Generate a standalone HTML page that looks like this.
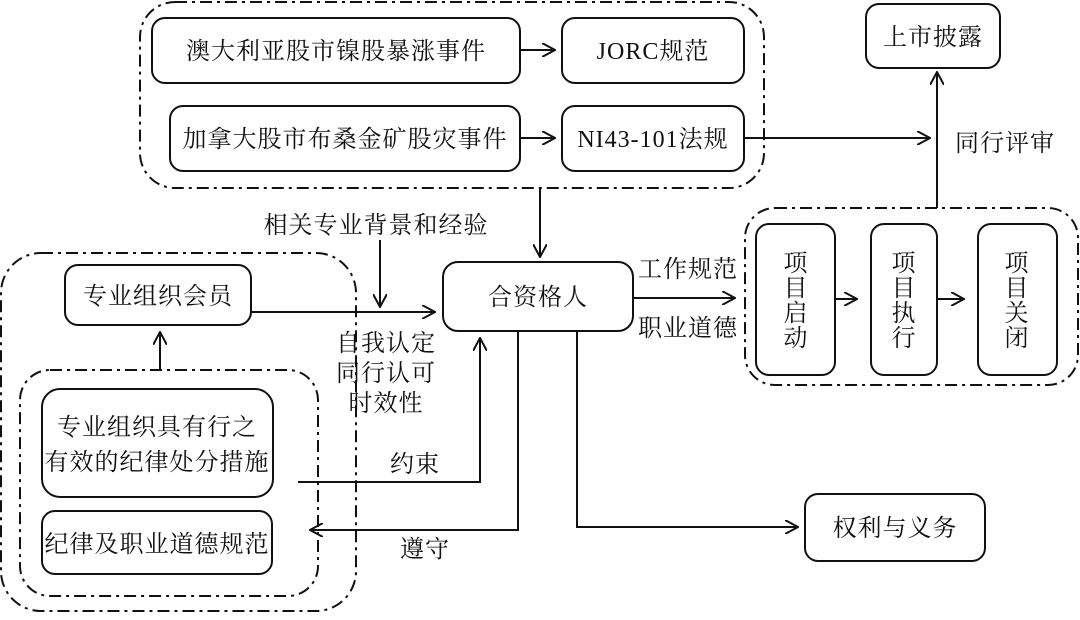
<!DOCTYPE html>
<html><head><meta charset="utf-8"><style>
html,body{margin:0;padding:0;background:#fff;}
svg text{font-family:"Liberation Serif","Noto Serif CJK SC","Noto Sans CJK SC",serif;font-size:24px;fill:#111;letter-spacing:1px;}
</style></head><body>
<svg width="1080" height="615" viewBox="0 0 1080 615" xmlns="http://www.w3.org/2000/svg">
<defs><marker id="a" viewBox="0 0 14 14" refX="13" refY="7" markerWidth="14" markerHeight="14" markerUnits="userSpaceOnUse" orient="auto"><path d="M0,0 L13,7 L0,14" fill="none" stroke="#111" stroke-width="2"/></marker></defs>
<g fill="none" stroke="#111" stroke-width="2" stroke-dasharray="12,5,3,5">
<rect x="140" y="2" width="624" height="186" rx="35"/>
<rect x="1" y="253" width="355" height="358" rx="40"/>
<rect x="20" y="370" width="298" height="226" rx="30"/>
<rect x="745" y="208" width="333" height="177" rx="30"/>
</g>
<g fill="#fff" stroke="#111" stroke-width="2">
<rect x="152" y="18" width="368" height="65" rx="13"/>
<rect x="562" y="18" width="182" height="65" rx="13"/>
<rect x="170" y="106" width="350" height="65" rx="13"/>
<rect x="562" y="106" width="182" height="65" rx="13"/>
<rect x="866" y="4" width="134" height="64" rx="13"/>
<rect x="443" y="262" width="190" height="69" rx="15"/>
<rect x="65" y="265" width="186" height="60" rx="13"/>
<rect x="42" y="389" width="231" height="108" rx="18"/>
<rect x="42" y="511" width="230" height="63" rx="13"/>
<rect x="805" y="494" width="180" height="67" rx="13"/>
<rect x="756" y="224" width="79" height="151" rx="13"/>
<rect x="871" y="224" width="66" height="151" rx="13"/>
<rect x="978" y="224" width="79" height="151" rx="13"/>
</g>
<g fill="none" stroke="#111" stroke-width="2" marker-end="url(#a)">
<line x1="520" y1="50" x2="555" y2="50"/>
<line x1="520" y1="138" x2="555" y2="138"/>
<line x1="744" y1="138" x2="930" y2="138"/>
<line x1="937" y1="208" x2="937" y2="72"/>
<line x1="540" y1="188" x2="540" y2="257"/>
<line x1="380" y1="240" x2="380" y2="307"/>
<line x1="251" y1="312" x2="435" y2="312"/>
<line x1="160" y1="370" x2="160" y2="332"/>
<polyline points="298,482 480,482 480,338"/>
<polyline points="518,331 518,530 310,530"/>
<polyline points="577,331 577,527 798,527"/>
<line x1="633" y1="298" x2="735" y2="298"/>
<line x1="835" y1="299" x2="857" y2="299"/>
<line x1="937" y1="299" x2="964" y2="299"/>
</g>
<g text-anchor="middle">
<text x="336" y="59">澳大利亚股市镍股暴涨事件</text>
<text x="653" y="59">JORC规范</text>
<text x="345" y="147">加拿大股市布桑金矿股灾事件</text>
<text x="653" y="147">NI43-101法规</text>
<text x="933" y="45">上市披露</text>
<text x="1005" y="151">同行评审</text>
<text x="376" y="233">相关专业背景和经验</text>
<text x="538" y="305">合资格人</text>
<text x="158" y="304">专业组织会员</text>
<text x="386" y="351">自我认定</text>
<text x="386" y="381">同行认可</text>
<text x="386" y="411">时效性</text>
<text x="157" y="435">专业组织具有行之</text>
<text x="157" y="470">有效的纪律处分措施</text>
<text x="157" y="552">纪律及职业道德规范</text>
<text x="415" y="472">约束</text>
<text x="425" y="557">遵守</text>
<text x="895" y="536">权利与义务</text>
<text x="688" y="277">工作规范</text>
<text x="688" y="336">职业道德</text>
<text x="796" y="271">项</text><text x="796" y="296">目</text><text x="796" y="321">启</text><text x="796" y="346">动</text>
<text x="904" y="271">项</text><text x="904" y="296">目</text><text x="904" y="321">执</text><text x="904" y="346">行</text>
<text x="1017" y="271">项</text><text x="1017" y="296">目</text><text x="1017" y="321">关</text><text x="1017" y="346">闭</text>
</g>
</svg>
</body></html>
